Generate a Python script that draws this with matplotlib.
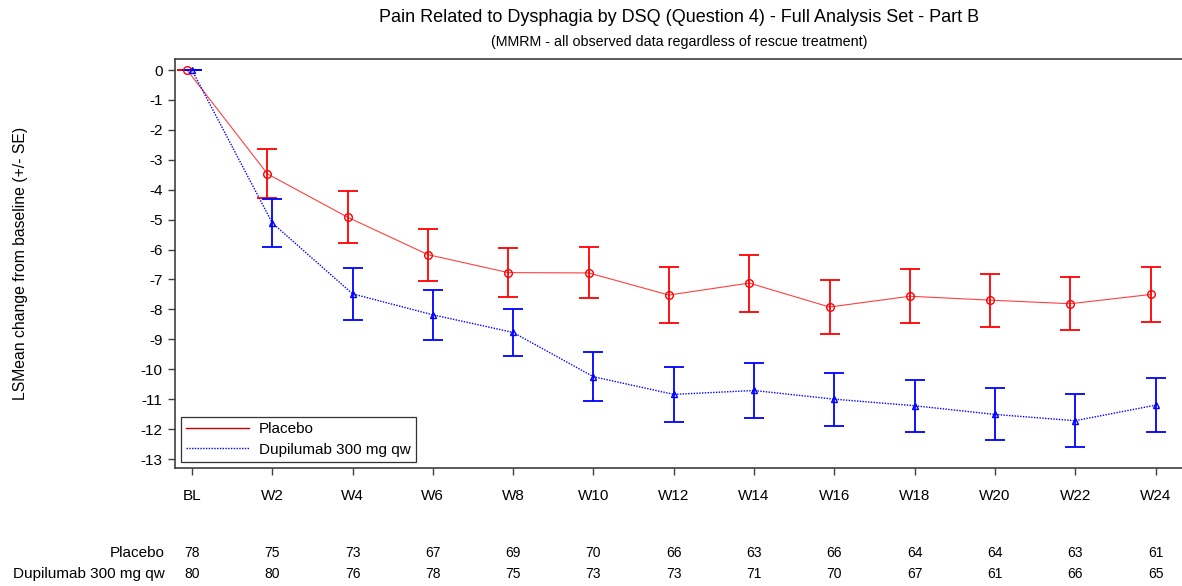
import matplotlib
matplotlib.use("Agg")
import matplotlib.pyplot as plt
import matplotlib.transforms as mtransforms
import numpy as np

plt.rcParams['font.family'] = ['Liberation Sans', 'DejaVu Sans']

visits = ["BL", "W2", "W4", "W6", "W8", "W10", "W12", "W14", "W16", "W18", "W20", "W22", "W24"]
placebo_mean = [0, -3.47, -4.92, -6.17, -6.77, -6.78, -7.52, -7.12, -7.92, -7.56, -7.69, -7.81, -7.50]
placebo_se = [0, 0.82, 0.87, 0.87, 0.81, 0.85, 0.94, 0.95, 0.90, 0.90, 0.89, 0.89, 0.93]
dupi_mean = [0, -5.11, -7.48, -8.18, -8.77, -10.25, -10.84, -10.71, -11.00, -11.22, -11.51, -11.72, -11.20]
dupi_se = [0, 0.79, 0.86, 0.84, 0.78, 0.82, 0.91, 0.91, 0.89, 0.87, 0.87, 0.88, 0.91]
placebo_n = [78, 75, 73, 67, 69, 70, 66, 63, 66, 64, 64, 63, 61]
dupi_n = [80, 80, 76, 78, 75, 73, 73, 71, 70, 67, 61, 66, 65]
series_names = ["Placebo", "Dupilumab 300 mg qw"]

fig = plt.figure(figsize=(11.82, 5.86), dpi=100)
ax = fig.add_axes([0.148, 0.2014, 0.852, 0.6974])

x = np.arange(len(visits))
xp = x - 0.06
xd = x + 0.0

ax.errorbar(xp, placebo_mean, yerr=placebo_se, fmt='none', ecolor='#ff0000',
            elinewidth=1.3, capsize=7, capthick=1.3, zorder=3)
ax.plot(xp, placebo_mean, color='#ff4040', lw=0.8, zorder=2)
ax.plot(xp, placebo_mean, linestyle='none', marker='o', markersize=5.5,
        markerfacecolor='none', markeredgecolor='#ff0000', markeredgewidth=1.0, zorder=4)

ax.errorbar(xd, dupi_mean, yerr=dupi_se, fmt='none', ecolor='#0000ff',
            elinewidth=1.3, capsize=7, capthick=1.3, zorder=3)
ax.plot(xd, dupi_mean, color='#0000ff', lw=1.0, linestyle=(0, (1, 1)), zorder=2)
ax.plot(xd, dupi_mean, linestyle='none', marker='^', markersize=5,
        markerfacecolor='none', markeredgecolor='#0000ff', markeredgewidth=1.0, zorder=4)

# legend handles
h1, = ax.plot([], [], color='#cc0000', lw=1.0)
h2, = ax.plot([], [], color='#0000ff', lw=1.0, linestyle=(0, (1, 1)))
leg = ax.legend([h1, h2], series_names, loc='lower left', bbox_to_anchor=(0.006, 0.015),
                fontsize=11, frameon=True, fancybox=False, edgecolor='black',
                handlelength=4.1, handletextpad=0.65, borderpad=0.35, labelspacing=0.4,
                borderaxespad=0)
leg.get_frame().set_linewidth(0.9)

ax.set_xlim(-0.212, 12.33)
ax.set_ylim(-13.3, 0.36)
ax.set_xticks(x)
ax.set_xticklabels(visits, fontsize=11)
ax.set_yticks(np.arange(0, -14, -1))
ax.set_yticklabels([str(v) for v in range(0, -14, -1)], fontsize=11)
ax.tick_params(axis='both', direction='out', length=5, width=1, color='#404040')
ax.tick_params(axis='x', pad=10)
ax.tick_params(axis='y', pad=4)

for s in ['left', 'bottom', 'top']:
    ax.spines[s].set_color('#404040')
    ax.spines[s].set_linewidth(1.2)
ax.spines['right'].set_visible(False)

ax.set_ylabel("LSMean change from baseline (+/- SE)", fontsize=11.3)
ax.yaxis.set_label_coords(-0.146, 0.5)

fig.text(0.5744, 0.970, "Pain Related to Dysphagia by DSQ (Question 4) - Full Analysis Set - Part B",
         ha='center', va='center', fontsize=13)
fig.text(0.5744, 0.928, "(MMRM - all observed data regardless of rescue treatment)",
         ha='center', va='center', fontsize=10.3)

trans = mtransforms.blended_transform_factory(ax.transData, fig.transFigure)
row_y = [1 - 553 / 586, 1 - 574 / 586]
for yy, name, counts in zip(row_y, series_names, [placebo_n, dupi_n]):
    fig.text(165 / 1182, yy, name, ha='right', va='center', fontsize=11)
    for xi, n in zip(x, counts):
        ax.text(xi, yy, str(n), transform=trans, ha='center', va='center',
                fontsize=10, clip_on=False)

fig.savefig("out.png", dpi=100)
